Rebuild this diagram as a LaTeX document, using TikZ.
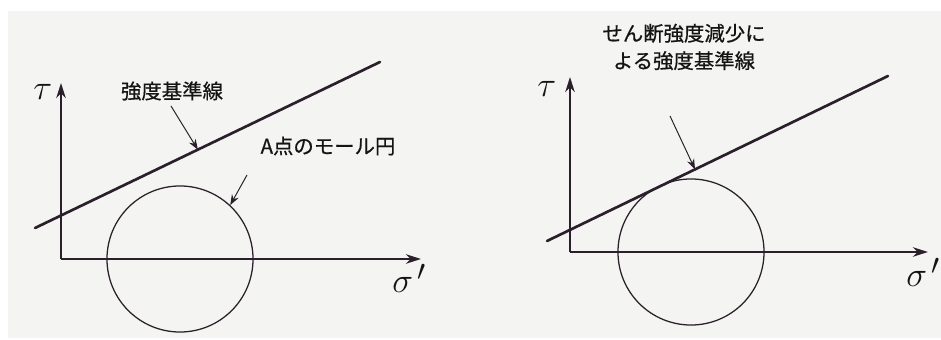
\documentclass[tikz,border=0pt]{standalone}
\usepackage{amsmath}
\usepackage{fontspec}
\newfontfamily\jpfont[FakeBold=0.6]{Noto Sans CJK JP}
\usepackage{tikz}
\usetikzlibrary{positioning, arrows.meta, calc}
\definecolor{PaperGray}{HTML}{F4F5F3}
\definecolor{nInk}{HTML}{2A1F2A}
\tikzset{
  axis/.style={line width=1.2pt, nInk, -{Stealth[length=3.8mm, width=2.4mm]}},
  envelope/.style={line width=1.9pt, nInk, line cap=round},
  mohr/.style={circle, draw=nInk, line width=0.9pt, minimum size=3.65cm, inner sep=0pt},
  pointer/.style={line width=0.7pt, nInk, -{Stealth[length=2.6mm, width=1.9mm]}},
  jplabel/.style={font=\jpfont\fontsize{14.5}{19.5}\selectfont, text=black!92},
  greek/.style={font=\fontsize{28}{30}\selectfont, text=black!92, inner sep=0pt, anchor=base west},
}
\begin{document}
\begin{tikzpicture}[x=0.025cm, y=-0.025cm, >=Stealth]
  \useasboundingbox (0,0) rectangle (941,340);
  \fill[PaperGray] (8,11) rectangle (941,338);

  % left: Mohr circle below the envelope
  \coordinate (oA) at (61,259);
  \draw[axis] (oA) -- (61,83);
  \draw[axis] (oA) -- (421,259);
  \node[greek] (tauA) at (33,100) {$\tau$};
  \node[greek] (sigA) at (392,293) {$\sigma^{\,\prime}$};
  \coordinate (envA1) at (35,228);
  \coordinate (envA2) at (380,62);
  \draw[envelope] (envA1) -- (envA2);
  \node[mohr] (circA) at (180,259) {};
  \node[jplabel] (labA) at (172,91) {強度基準線};
  \draw[pointer] (171,106) -- ($(envA1)!0.472!(envA2)$);
  \node[jplabel] (labB) at (328,146) {A点のモール円};
  \coordinate (tailB) at (247,175);
  \draw[pointer] (tailB) -- (circA.47);

  % right: reduced envelope touching the circle
  \coordinate (oB) at (570,252);
  \draw[axis] (oB) -- (570,77);
  \draw[axis] (oB) -- (928,252);
  \node[greek] (tauB) at (537,97) {$\tau$};
  \node[greek] (sigB) at (906,287) {$\sigma^{\,\prime}$};
  \coordinate (envB1) at (547,241);
  \coordinate (envB2) at (888,76);
  \draw[envelope] (envB1) -- (envB2);
  \node[mohr] (circB) at (691,252) {};
  \node[jplabel, align=center] (labC) at (684,47) {せん断強度減少に\\よる強度基準線};
  \coordinate (tailC) at (670,116);
  \draw[pointer] (tailC) -- ($(envB1)!0.434!(envB2)$);
\end{tikzpicture}
\end{document}
